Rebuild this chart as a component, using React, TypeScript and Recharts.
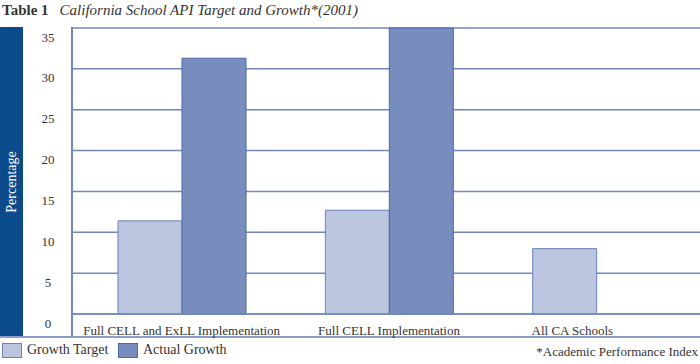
import React from 'react';
import { BarChart, Bar, XAxis, YAxis, CartesianGrid } from 'recharts';

const categories = ['Full CELL and ExLL Implementation', 'Full CELL Implementation', 'All CA Schools'];
const growthTarget = [11.4, 12.7, 8.0];
const actualGrowth = [31.3, 35, null];
const yTicks = [0, 5, 10, 15, 20, 25, 30, 35];

const data = categories.map((name, i) => ({ name, target: growthTarget[i], actual: actualGrowth[i] }));

const SERIF = '"Liberation Serif", "Times New Roman", serif';
const GRID = '#7088BE';
const LIGHT = '#BCC5DF';
const LIGHT_STROKE = '#6A82B8';
const DARK = '#778DBD';
const DARK_STROKE = '#4A67A8';
const BAND = '#0B4A8B';

const YTick = ({ y, payload }: any) => (
  <text x={48} y={y + 9} textAnchor="middle" dominantBaseline="central" fontFamily={SERIF} fontSize={13} fill="#333">
    {payload.value}
  </text>
);

const XTick = ({ x, y, payload, index }: any) => (
  <text x={x + (index === 2 ? -24 : 0)} y={y + 8} textAnchor="middle" dominantBaseline="central" fontFamily={SERIF} fontSize={13} fill="#333">
    {payload.value}
  </text>
);

const Swatch = ({ fill, stroke }: { fill: string; stroke: string }) => (
  <span style={{ display: 'inline-block', width: 18, height: 13, background: fill, border: `1px solid ${stroke}`, marginRight: 5 }} />
);

export default function App() {
  return (
    <div style={{ position: 'absolute', left: 0, top: 0, width: 700, height: 364, background: '#fff', overflow: 'hidden' }}>
      <div style={{ position: 'absolute', left: 2, top: 2, fontFamily: SERIF, fontSize: 15, color: '#333', whiteSpace: 'nowrap' }}>
        <b style={{ marginRight: 11 }}>Table 1</b>
        <i>California School API Target and Growth*(2001)</i>
      </div>
      <div style={{ position: 'absolute', left: 0, top: 27, width: 23, height: 310, background: BAND }} />
      <div style={{ position: 'absolute', left: 12, top: 182, transform: 'translate(-50%, -50%) rotate(-90deg)', color: '#fff', fontFamily: SERIF, fontSize: 14, whiteSpace: 'nowrap' }}>
        Percentage
      </div>
      <div style={{ position: 'absolute', left: 71, top: 27, width: 2, height: 311, background: GRID }} />
      <div style={{ position: 'absolute', left: 0, top: 336, width: 700, height: 2, background: '#8C9FC8' }} />
      <div style={{ position: 'absolute', left: 2, top: 342, display: 'flex', alignItems: 'center', fontFamily: SERIF, fontSize: 14, color: '#333' }}>
        <Swatch fill={LIGHT} stroke={LIGHT_STROKE} />
        <span style={{ width: 91 }}>Growth Target</span>
        <Swatch fill={DARK} stroke={DARK_STROKE} />
        <span>Actual Growth</span>
      </div>
      <div style={{ position: 'absolute', right: 2, top: 344, fontFamily: SERIF, fontSize: 13, color: '#333' }}>
        *Academic Performance Index
      </div>
      <div style={{ position: 'absolute', left: 0, top: 0 }}>
        <BarChart width={700} height={340} data={data} margin={{ top: 28, right: 0, left: 0, bottom: 0 }} barGap={0}>
          <CartesianGrid vertical={false} stroke={GRID} strokeWidth={1.5} />
          <XAxis
            dataKey="name"
            height={26}
            padding={{ left: 6, right: 0 }}
            axisLine={{ stroke: GRID, strokeWidth: 1.5 }}
            tickLine={false}
            tick={<XTick />}
            interval={0}
          />
          <YAxis
            width={72}
            domain={[0, 35]}
            ticks={yTicks}
            axisLine={false}
            tickLine={false}
            tick={<YTick />}
            interval={0}
          />
          <Bar dataKey="target" name="Growth Target" fill={LIGHT} stroke={LIGHT_STROKE} strokeWidth={1} barSize={64} isAnimationActive={false} />
          <Bar dataKey="actual" name="Actual Growth" fill={DARK} stroke={DARK_STROKE} strokeWidth={1} barSize={64} isAnimationActive={false} />
        </BarChart>
      </div>
    </div>
  );
}
